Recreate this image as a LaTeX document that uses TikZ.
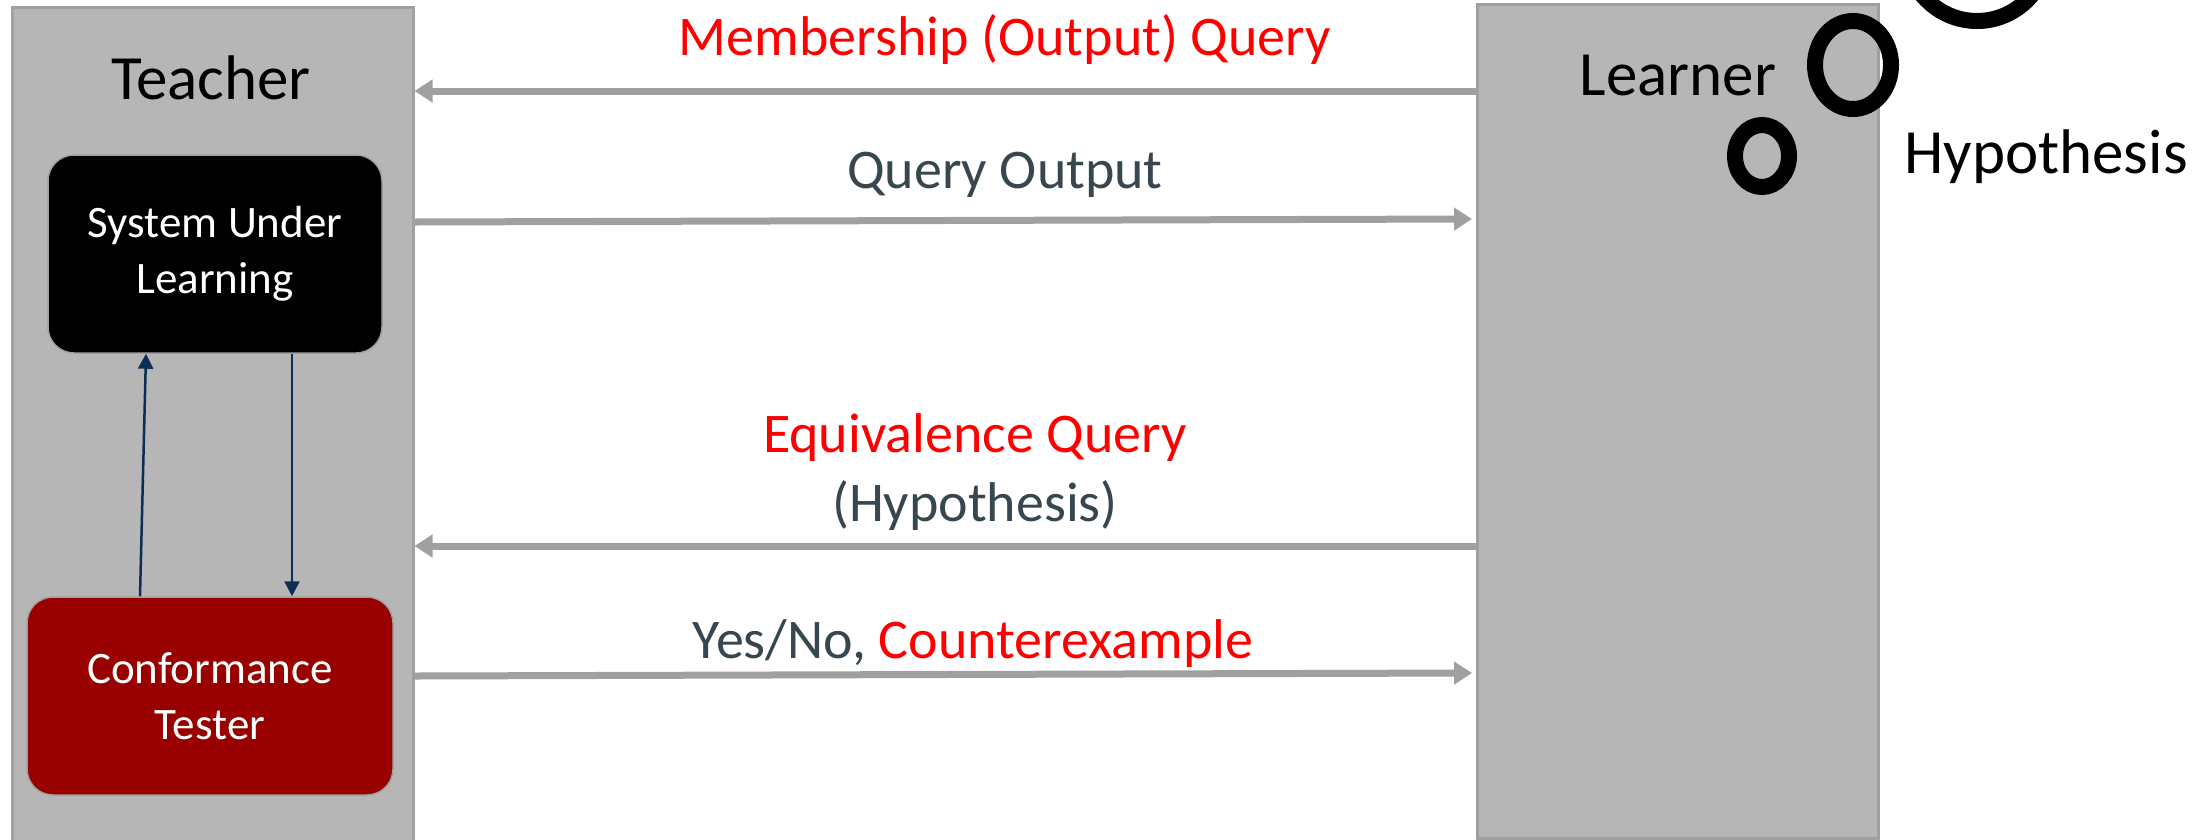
\documentclass[tikz,border=0pt]{standalone}
\usepackage{fontspec}
\setmainfont{Carlito}
\usetikzlibrary{arrows.meta}

\definecolor{panelfill}{HTML}{B6B6B6}
\definecolor{paneledge}{HTML}{A0A0A0}
\definecolor{msgline}{HTML}{A0A0A0}
\definecolor{slate}{HTML}{37474F}
\definecolor{navy}{HTML}{0C2D55}
\definecolor{darkred}{HTML}{990000}
\definecolor{qred}{HTML}{FF0000}

\tikzset{
  panel/.style={draw=paneledge, line width=2.5pt, fill=panelfill,
    rectangle, inner sep=0pt, anchor=north west},
  block/.style={rectangle, rounded corners=26pt, draw=paneledge, line width=1.5pt,
    text=white, align=center, inner sep=0pt,
    font=\fontsize{45}{56}\selectfont},
  titletext/.style={anchor=base, font=\fontsize{63}{75}\selectfont},
  msgtext/.style={anchor=base, text=slate, font=\fontsize{56}{67}\selectfont},
  msgarrow/.style={draw=msgline, line width=7pt,
    -{Triangle[length=18pt, width=22pt]}},
  innerarrow/.style={draw=navy, line width=2.5pt,
    -{Triangle[length=15pt, width=15pt]}},
  ring/.style={draw=black, line width=16pt},
}

\begin{document}
\begin{tikzpicture}[x=1pt, y=-1pt]
  \useasboundingbox (0,0) rectangle (2207,839);
  \fill[white] (0,0) rectangle (2207,839);
  \clip (0,0) rectangle (2207,839);

  % the two parties
  \node[panel, minimum width=401pt, minimum height=845pt] (teacher) at (11,6) {};
  \node[panel, minimum width=401pt, minimum height=834pt] (learner) at (1476,3) {};
  \node[titletext] (teachertitle) at (211,99) {Teacher};
  \node[titletext] (learnertitle) at (1678,95) {Learner};

  % components inside the teacher
  \node[block, fill=black, minimum width=334pt, minimum height=198pt]
    (sul) at (215,254) {System Under\\Learning};
  \node[block, fill=darkred, minimum width=366pt, minimum height=198pt]
    (ct) at (210,696) {Conformance\\Tester};
  \draw[innerarrow] (ct.north -| 140,0) -- (sul.south -| 146,0);
  \draw[innerarrow] (sul.south -| 292,0) -- (ct.north -| 292,0);

  % growing hypothesis rings
  \draw[ring] (1762,156) ellipse [x radius=27pt, y radius=31pt];
  \draw[ring] (1853,65) ellipse [x radius=38pt, y radius=44pt];
  \draw[ring] (1977,-53) ellipse [x radius=72pt, y radius=74pt];
  \node[titletext] (hyp) at (2046,173) {Hypothesis};

  % queries and answers
  \draw[msgarrow] (learner.west |- 0,91) -- (teacher.east |- 0,91);
  \node[msgtext, text=qred] (mq) at (1005,55) {Membership (Output) Query};

  \draw[msgarrow] (teacher.east |- 0,222) -- ([xshift=-4pt]learner.west |- 0,219);
  \node[msgtext] (qo) at (1005,188) {Query Output};

  \draw[msgarrow] (learner.west |- 0,546) -- (teacher.east |- 0,546);
  \node[msgtext, text=qred] (eq) at (975,452) {Equivalence Query};
  \node[msgtext] (eqh) at (975,521) {(Hypothesis)};

  \draw[msgarrow] (teacher.east |- 0,676) -- ([xshift=-4pt]learner.west |- 0,673);
  \node[msgtext] (ans) at (973,658) {Yes/No, \textcolor{qred}{Counterexample}};
\end{tikzpicture}
\end{document}
